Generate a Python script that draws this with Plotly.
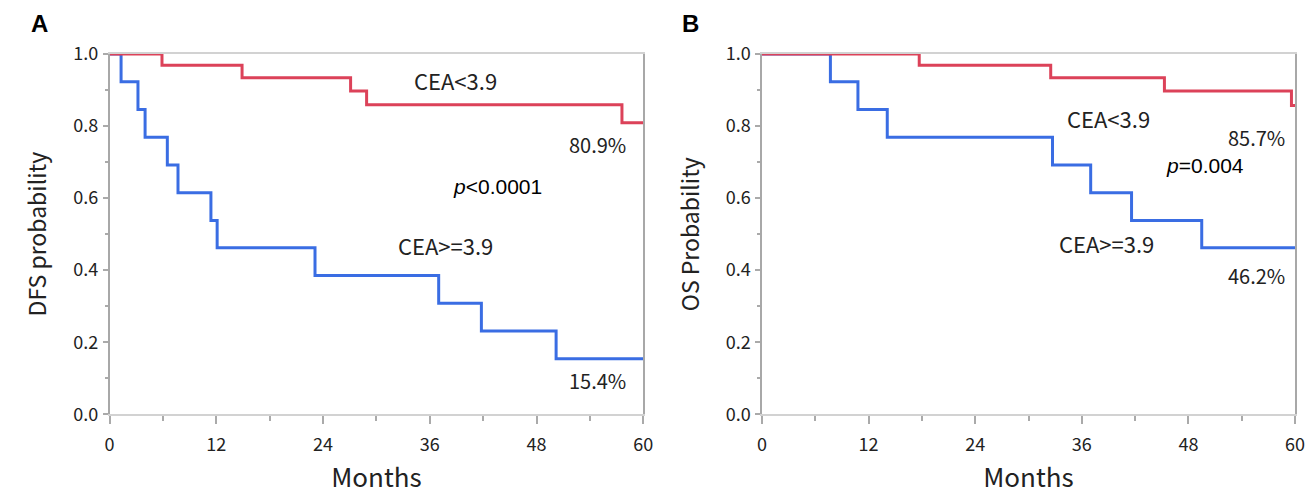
import plotly.graph_objects as go

# ---------------- data ----------------
dfs_low_months = [0, 5.9, 14.9, 27.1, 28.9, 57.6, 60]
dfs_low_surv = [1.0, 0.969, 0.934, 0.897, 0.859, 0.809, 0.809]
dfs_high_months = [0, 1.3, 3.2, 4.0, 6.5, 7.7, 11.4, 12.1, 23.1, 37.0, 41.8, 50.2, 60]
dfs_high_surv = [1.0, 0.923, 0.846, 0.769, 0.692, 0.615, 0.538, 0.462, 0.385, 0.308, 0.231, 0.154, 0.154]

os_low_months = [0, 17.7, 32.5, 45.3, 59.6, 60]
os_low_surv = [1.0, 0.969, 0.934, 0.897, 0.857, 0.857]
os_high_months = [0, 7.7, 10.8, 14.1, 32.7, 37.0, 41.6, 49.5, 60]
os_high_surv = [1.0, 0.923, 0.846, 0.769, 0.692, 0.615, 0.538, 0.462, 0.462]

x_tickvals = [0, 12, 24, 36, 48, 60]
y_tickvals = [0.0, 0.2, 0.4, 0.6, 0.8, 1.0]
y_ticktext = ["0.0", "0.2", "0.4", "0.6", "0.8", "1.0"]

RED = "#dc4259"
BLUE = "#3a6de3"
OFF = 8  # page body margin
W, H = 1314 - OFF, 494 - OFF
NARROW = "Noto Sans CJK JP, DejaVu Sans Condensed, sans-serif"
REG = "Liberation Sans, Arial, sans-serif"


def px_x(px):
    return (px - OFF) / W


def px_y(py):
    return 1 - (py - OFF) / H


fig = go.Figure()
fig.add_trace(go.Scatter(x=dfs_high_months, y=dfs_high_surv, mode="lines", line_shape="hv",
                         line=dict(color=BLUE, width=3), xaxis="x", yaxis="y", showlegend=False))
fig.add_trace(go.Scatter(x=dfs_low_months, y=dfs_low_surv, mode="lines", line_shape="hv",
                         line=dict(color=RED, width=3), xaxis="x", yaxis="y", showlegend=False))
fig.add_trace(go.Scatter(x=os_high_months, y=os_high_surv, mode="lines", line_shape="hv",
                         line=dict(color=BLUE, width=3), xaxis="x2", yaxis="y2", showlegend=False))
fig.add_trace(go.Scatter(x=os_low_months, y=os_low_surv, mode="lines", line_shape="hv",
                         line=dict(color=RED, width=3), xaxis="x2", yaxis="y2", showlegend=False))

ydom = [px_y(414.3), px_y(54)]


def xaxis(domain, anchor):
    return dict(domain=domain, anchor=anchor, range=[0, 60], tickvals=x_tickvals, automargin=False,
                showgrid=False, zeroline=False, showline=True, linecolor="#d2d2d2", linewidth=1.5,
                mirror=True, ticks="outside", ticklen=8, tickwidth=1.5, tickcolor="#aaaaaa",
                ticklabelstandoff=5,
                minor=dict(dtick=6, tick0=0, ticks="outside", ticklen=5, tickwidth=1.5, tickcolor="#aaaaaa"),
                tickfont=dict(family=NARROW, size=18, color="#222"),
                title=dict(text="Months", font=dict(family=NARROW, size=26, color="#222"), standoff=16))


def yaxis(domain, anchor, title):
    return dict(domain=domain, anchor=anchor, range=[0, 1], tickvals=y_tickvals, ticktext=y_ticktext,
                automargin=False,
                showgrid=False, zeroline=False, showline=True, linecolor="#a8a8a8", linewidth=1.5,
                mirror=True, ticks="outside", ticklen=5, tickwidth=1.5, tickcolor="#aaaaaa",
                ticklabelstandoff=1,
                minor=dict(dtick=0.1, tick0=0, ticks="outside", ticklen=3, tickwidth=1.5, tickcolor="#aaaaaa"),
                tickfont=dict(family=NARROW, size=18, color="#222"),
                title=dict(text=title, font=dict(family=NARROW, size=23, color="#222"), standoff=20))


fig.update_layout(
    width=W, height=H,
    margin=dict(l=0, r=0, t=0, b=0, autoexpand=False),
    paper_bgcolor="white", plot_bgcolor="white",
    xaxis=xaxis([px_x(109.5), px_x(643.3)], "y"),
    yaxis=yaxis(ydom, "x", "DFS probability"),
    xaxis2=xaxis([px_x(762), px_x(1295)], "y2"),
    yaxis2=yaxis(ydom, "x2", "OS Probability"),
)


def ann(text, px, py, family=NARROW, size=21, color="#222", yanchor="middle"):
    fig.add_annotation(text=text, x=px_x(px), y=px_y(py), xref="paper", yref="paper",
                       showarrow=False, xanchor="center", yanchor=yanchor,
                       font=dict(family=family, size=size, color=color))


ann("<b>A</b>", 39, 8, family=REG, size=24, color="black", yanchor="top")
ann("<b>B</b>", 690, 8, family=REG, size=24, color="black", yanchor="top")

ann("CEA&lt;3.9", 455, 80, size=22)
ann("80.9%", 597, 144, size=20)
ann("<i>p</i>&lt;0.0001", 497, 186, family=REG, size=21, color="black")
ann("CEA&gt;=3.9", 445, 245, size=22)
ann("15.4%", 597, 380, size=20)

ann("CEA&lt;3.9", 1108, 118, size=22)
ann("85.7%", 1256, 137, size=20)
ann("<i>p</i>=0.004", 1205, 166, family=REG, size=21, color="black")
ann("CEA&gt;=3.9", 1106, 243, size=22)
ann("46.2%", 1256, 275, size=20)

fig.write_html("out.html")
